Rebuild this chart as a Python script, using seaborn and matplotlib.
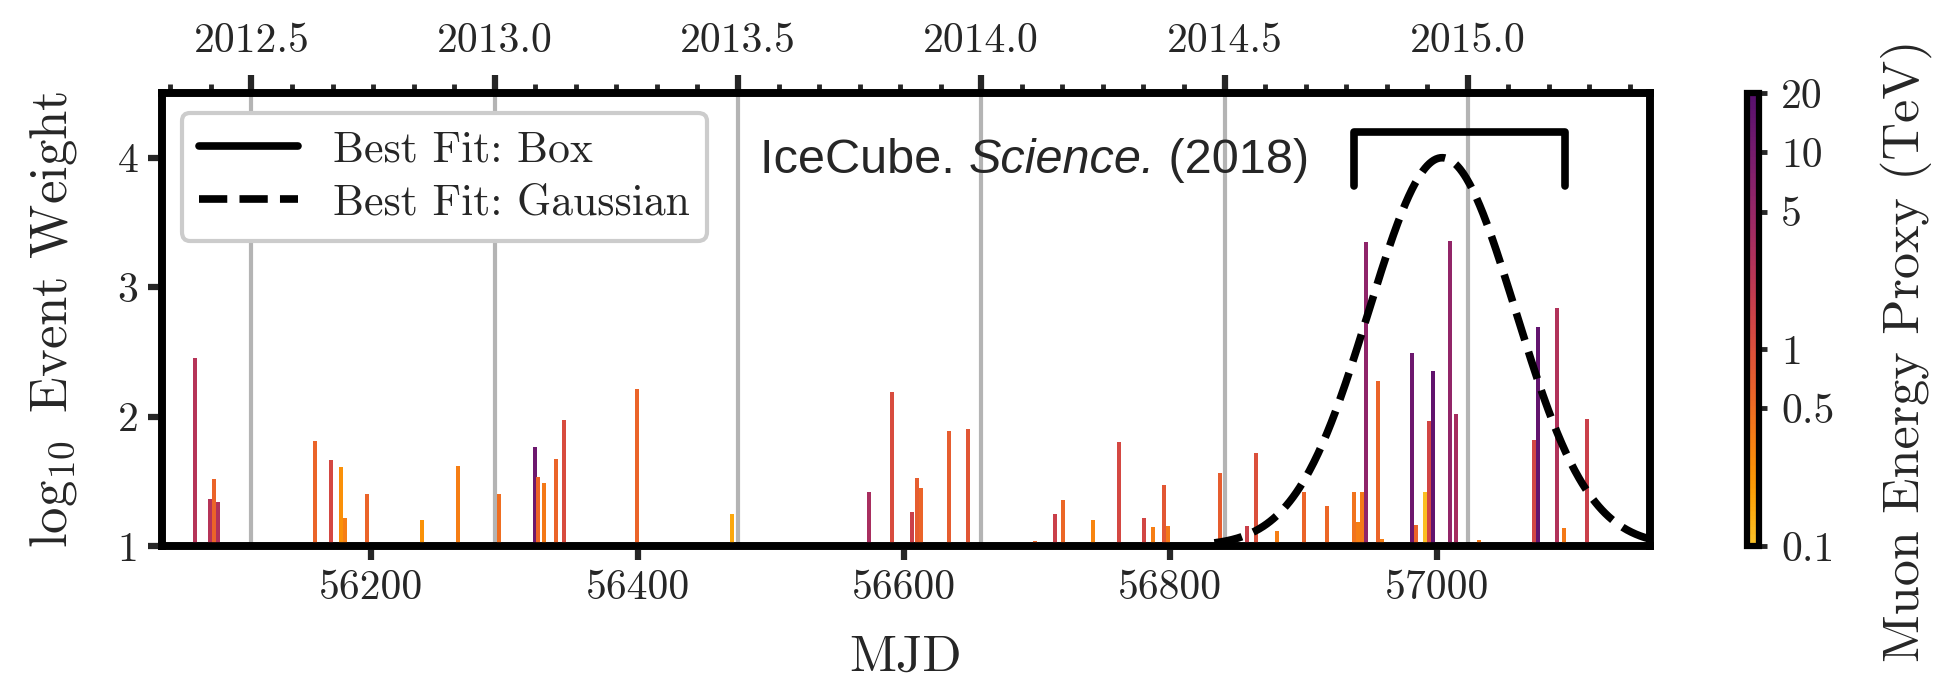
import numpy as np
import pandas as pd
import matplotlib
matplotlib.use("Agg")
import matplotlib.pyplot as plt
import matplotlib.colors as mcolors
import matplotlib.ticker as mticker
import matplotlib.cm as mcm
import seaborn as sns

# ---- neutrino events: arrival time (MJD), log10 weight, muon energy proxy (TeV)
event_mjd = [56068, 56079, 56082, 56085, 56158, 56170, 56177.5, 56180.5, 56197,
             56238, 56265, 56296, 56323, 56325, 56330, 56339, 56345, 56399.5,
             56471, 56574, 56591, 56606, 56610, 56613, 56634, 56648, 56698.6,
             56713.6, 56719, 56742, 56761.6, 56780, 56787, 56795, 56798, 56837,
             56857.5, 56864, 56880, 56900, 56917.5, 56937.8, 56940.8, 56943.7,
             56946.8, 56955.8, 56958.8, 56981, 56984, 56991, 56994, 56997,
             57010, 57014, 57032, 57073, 57076, 57090, 57095.5, 57112.5]
event_logw = [2.45, 1.36, 1.52, 1.34, 1.81, 1.665, 1.61, 1.22, 1.40,
              1.20, 1.62, 1.40, 1.765, 1.53, 1.49, 1.67, 1.97, 2.21,
              1.25, 1.42, 2.19, 1.26, 1.526, 1.45, 1.89, 1.905, 1.04,
              1.25, 1.356, 1.20, 1.80, 1.22, 1.147, 1.47, 1.155, 1.565,
              1.155, 1.72, 1.116, 1.42, 1.31, 1.42, 1.186, 1.42,
              3.35, 2.276, 1.054, 2.49, 1.16, 1.42, 1.967, 2.35,
              3.36, 2.02, 1.046, 1.82, 2.69, 2.84, 1.14, 1.98]
event_energy = [2.6, 2.6, 0.6, 2.8, 0.6, 1.2, 0.25, 0.35, 0.6,
                0.24, 0.35, 0.5, 12, 0.6, 0.38, 0.6, 1.1, 0.6,
                0.16, 3.5, 1.1, 1.6, 0.7, 0.6, 0.7, 0.85, 0.6,
                1.6, 0.55, 0.3, 1.2, 1.3, 0.35, 0.8, 0.4, 0.7,
                1.6, 1.0, 0.35, 0.6, 0.55, 0.45, 0.35, 0.38,
                6.0, 0.6, 0.35, 12, 0.6, 0.11, 1.3, 16,
                5.5, 3.6, 0.4, 1.3, 15, 2.8, 0.38, 1.6]

# ---- best-fit time windows
box_start, box_end = 56937.81, 57096.21
box_top, box_leg = 4.2, 3.78
gauss_t0, gauss_sigma, gauss_amp = 57004.0, 55.0, 3.0
gauss_start = 56833.0

mjd_range = (56043.0, 57160.0)
weight_range = (1.0, 4.5)
mjd_ticks = [56200, 56400, 56600, 56800, 57000]
weight_ticks = [1, 2, 3, 4]
energy_ticks = [0.1, 0.5, 1, 5, 10, 20]
energy_range = (0.1, 20.0)


def mjd_to_year(m):
    return 2000.0 + (np.asarray(m, dtype=float) - 51544.5) / 365.25


sns.set_theme(style="ticks")
plt.rcParams.update({
    "font.family": "serif",
    "font.serif": ["cmr10"],
    "mathtext.fontset": "cm",
    "axes.formatter.use_mathtext": True,
    "axes.unicode_minus": False,
    "axes.linewidth": 5.5,
    "axes.edgecolor": "black",
})

W, H = 1938, 681
fig = plt.figure(figsize=(W / 100, H / 100), dpi=100)
ax = fig.add_axes([162 / W, 1 - 546 / H, (1650 - 162) / W, (546 - 93) / H])
cax = fig.add_axes([1747 / W, 1 - 546 / H, 12 / W, (546 - 93) / H])

cmap = mcolors.ListedColormap(plt.get_cmap("inferno")(np.linspace(0.86, 0.25, 256)))
norm = mcolors.LogNorm(*energy_range)

events = pd.DataFrame({"mjd": event_mjd, "logw": event_logw, "energy": event_energy})
ax.bar(events["mjd"], events["logw"] - weight_range[0], bottom=weight_range[0],
       width=3.0, color=cmap(norm(events["energy"].to_numpy())), linewidth=0, zorder=2)

# box window drawn as a bracket
box_df = pd.DataFrame({"t": [box_start, box_start, box_end, box_end],
                       "y": [box_leg, box_top, box_top, box_leg]})
sns.lineplot(data=box_df, x="t", y="y", sort=False, estimator=None, ax=ax,
             color="black", lw=5.5, label="Best Fit: Box", zorder=4)

# gaussian window
t = np.linspace(gauss_start, mjd_range[1], 400)
gauss_df = pd.DataFrame({"t": t,
                         "y": weight_range[0] + gauss_amp * np.exp(-0.5 * ((t - gauss_t0) / gauss_sigma) ** 2)})
sns.lineplot(data=gauss_df, x="t", y="y", ax=ax, color="black", lw=5.5,
             linestyle="--", label="Best Fit: Gaussian", zorder=4)

ax.set_xlim(*mjd_range)
ax.set_ylim(*weight_range)
ax.set_xticks(mjd_ticks)
ax.set_yticks(weight_ticks)
ax.xaxis.set_major_formatter(mticker.FormatStrFormatter("%d"))
ax.yaxis.set_major_formatter(mticker.FormatStrFormatter("%d"))
ax.tick_params(axis="both", which="major", direction="out", length=10, width=4.5,
               labelsize=30, pad=7, top=False, right=False)
ax.set_xlabel("MJD", fontsize=37, labelpad=20)
ax.set_ylabel(r"$\log_{10}$ Event Weight", fontsize=38, labelpad=28)

# calendar-year axis on top with grid
ax2 = ax.twiny()
ax2.set_xlim(mjd_to_year(mjd_range))
ax2.xaxis.set_major_locator(mticker.MultipleLocator(0.5))
ax2.xaxis.set_minor_locator(mticker.MultipleLocator(1 / 12))
ax2.xaxis.set_major_formatter(mticker.FormatStrFormatter("%.1f"))
ax2.tick_params(axis="x", which="major", direction="out", length=13, width=4.5,
                labelsize=30, pad=11)
ax2.tick_params(axis="x", which="minor", direction="out", length=6.5, width=3.5)
ax2.tick_params(axis="y", which="both", left=False, right=False,
                labelleft=False, labelright=False)
ax2.grid(True, which="major", axis="x", color="#b4b4b4", lw=3)
ax.set_zorder(ax2.get_zorder() + 1)
ax.patch.set_visible(False)

ax.legend(loc="upper left", fontsize=31.5, frameon=True, fancybox=True,
          edgecolor="#cccccc", framealpha=1.0, handlelength=2.25,
          handletextpad=0.8, labelspacing=0.3, borderaxespad=0.45,
          borderpad=0.4)
ax.get_legend().get_frame().set_linewidth(3)

# citation text with italic journal name
t1 = ax.text(0.402, 0.823, "IceCube. ", transform=ax.transAxes, fontsize=35,
             family="Liberation Sans", ha="left", va="baseline")
t2 = ax.annotate("Science.", xy=(1, 0), xycoords=t1, fontsize=35,
                 family="Liberation Sans", style="italic", ha="left", va="bottom")
ax.annotate(" (2018)", xy=(1, 0), xycoords=t2, fontsize=35,
            family="Liberation Sans", ha="left", va="bottom")

# energy colourbar
sm = mcm.ScalarMappable(norm=norm, cmap=cmap)
cbar = fig.colorbar(sm, cax=cax)
cbar.set_ticks(energy_ticks)
cbar.set_ticklabels(["%g" % v for v in energy_ticks])
cbar.ax.minorticks_off()
cbar.outline.set_linewidth(4.5)
cbar.ax.tick_params(which="major", direction="out", length=6, width=3.5,
                    labelsize=30, pad=10)
cbar.set_label("Muon Energy Proxy (TeV)", fontsize=37.5)
cbar.ax.yaxis.set_label_coords(11.1, 0.43)

fig.savefig("out.png", dpi=100)
